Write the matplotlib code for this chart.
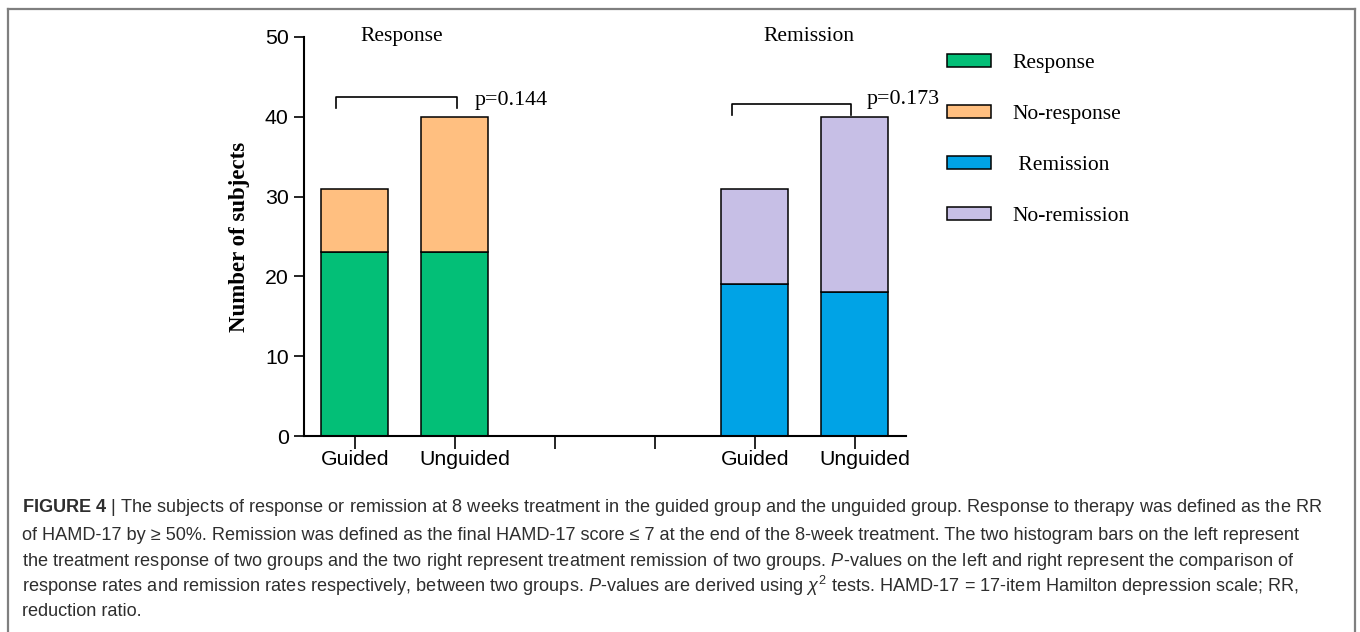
import matplotlib as mpl
import matplotlib.pyplot as plt
import matplotlib.transforms as mtransforms
from matplotlib.patches import Patch
from matplotlib.lines import Line2D

mpl.rcParams['mathtext.fontset'] = 'custom'
mpl.rcParams['mathtext.rm'] = 'Liberation Sans'
mpl.rcParams['mathtext.it'] = 'Liberation Sans:italic'
mpl.rcParams['mathtext.bf'] = 'Liberation Sans:bold'

# 数据：每组 = 引导 / 非引导
groups = ['Guided', 'Unguided', '', '', 'Guided', 'Unguided']
response = [23, 23]
no_response = [8, 17]
remission = [19, 18]
no_remission = [12, 22]
p_response = 'p=0.144'
p_remission = 'p=0.173'

c_resp = '#03BF77'
c_noresp = '#FFBF80'
c_rem = '#00A3E6'
c_norem = '#C7BFE6'

fig = plt.figure(figsize=(13.6, 6.32), dpi=100)
ax = fig.add_axes([0.2235, 0.310, 0.4425, 0.6315])

serif = 'Liberation Serif'
sans = 'Liberation Sans'
w = 0.67
ec = dict(edgecolor='black', linewidth=1.1)

ax.bar([0, 1], response, w, color=c_resp, **ec)
ax.bar([0, 1], no_response, w, bottom=response, color=c_noresp, **ec)
ax.bar([4, 5], remission, w, color=c_rem, **ec)
ax.bar([4, 5], no_remission, w, bottom=remission, color=c_norem, **ec)

ax.set_xlim(-0.51, 5.51)
ax.set_ylim(0, 50)
ax.set_xticks(range(len(groups)))
ax.set_xticklabels(groups, fontfamily=sans, fontsize=15.3)
ax.set_yticks([0, 10, 20, 30, 40, 50])
ax.tick_params(axis='x', length=9, width=1.2, pad=1)
ax.tick_params(axis='y', length=7, width=1.2, pad=4, labelsize=15.3)
for lab in ax.get_yticklabels():
    lab.set_fontfamily(sans)
# "Unguided" 标签略微右移
shift = mtransforms.ScaledTranslation(10/100, 0, fig.dpi_scale_trans)
for i, lab in enumerate(ax.get_xticklabels()):
    if groups[i] == 'Unguided':
        lab.set_transform(lab.get_transform() + shift)
for s in ['top', 'right']:
    ax.spines[s].set_visible(False)
for s in ['left', 'bottom']:
    ax.spines[s].set_linewidth(1.5)

ax.set_ylabel('Number of subjects', fontfamily=serif, fontweight='bold',
              fontsize=16.5, labelpad=11)

# 标题
ax.text(0.47, 50, 'Response', ha='center', va='center', fontfamily=serif, fontsize=15.5)
ax.text(4.54, 50.0, 'Remission', ha='center', va='center', fontfamily=serif, fontsize=15.5)

# 显著性括号
ax.plot([-0.19, -0.19, 1.02, 1.02], [41.1, 42.5, 42.5, 41.1], color='black', lw=1.2, clip_on=False)
ax.plot([3.77, 3.77, 4.96, 4.96], [40.2, 41.6, 41.6, 40.2], color='black', lw=1.2, clip_on=False)
ax.text(1.2, 42.0, p_response, ha='left', va='center', fontfamily=serif, fontsize=15.8)
ax.text(5.12, 42.2, p_remission, ha='left', va='center', fontfamily=serif, fontsize=15.8)

# 图例
handles = [Patch(facecolor=c_resp, edgecolor='black', lw=1.1),
           Patch(facecolor=c_noresp, edgecolor='black', lw=1.1),
           Patch(facecolor=c_rem, edgecolor='black', lw=1.1),
           Patch(facecolor=c_norem, edgecolor='black', lw=1.1)]
labels = ['Response', 'No-response', ' Remission', 'No-remission']
fig.legend(handles, labels, loc='upper left', bbox_to_anchor=(0.690, 0.9287),
           frameon=False, prop={'family': serif, 'size': 15.5},
           handlelength=2.05, handleheight=0.56, handletextpad=1.0,
           labelspacing=1.48, borderaxespad=0)

# 外框
frame = dict(color='#7f7f7f', lw=1.6, transform=fig.transFigure)
fig.add_artist(Line2D([8/1360, 8/1360], [0, 1 - 9/632], **frame))
fig.add_artist(Line2D([8/1360, 1355/1360], [1 - 9/632, 1 - 9/632], **frame))
fig.add_artist(Line2D([1355/1360, 1355/1360], [0, 1 - 9/632], **frame))

# 图注
caption = [
    r"$\mathbf{FIGURE\ 4\ }$| The subjects of response or remission at 8 weeks treatment in the guided group and the unguided group. Response to therapy was defined as the RR",
    "of HAMD-17 by \u2265 50%. Remission was defined as the final HAMD-17 score \u2264 7 at the end of the 8-week treatment. The two histogram bars on the left represent",
    r"the treatment response of two groups and the two right represent treatment remission of two groups. $\mathit{P}$-values on the left and right represent the comparison of",
    r"response rates and remission rates respectively, between two groups. $\mathit{P}$-values are derived using $\chi^2$ tests. HAMD-17 = 17-item Hamilton depression scale; RR,",
    "reduction ratio.",
]
ys = [508, 535, 561, 586, 611]
for line, y in zip(caption, ys):
    fig.text(22/1360, 1 - y/632, line, ha='left', va='center', fontfamily=sans,
             fontsize=13.1, color='#2e2e2e')

fig.savefig('out.png', dpi=100)
